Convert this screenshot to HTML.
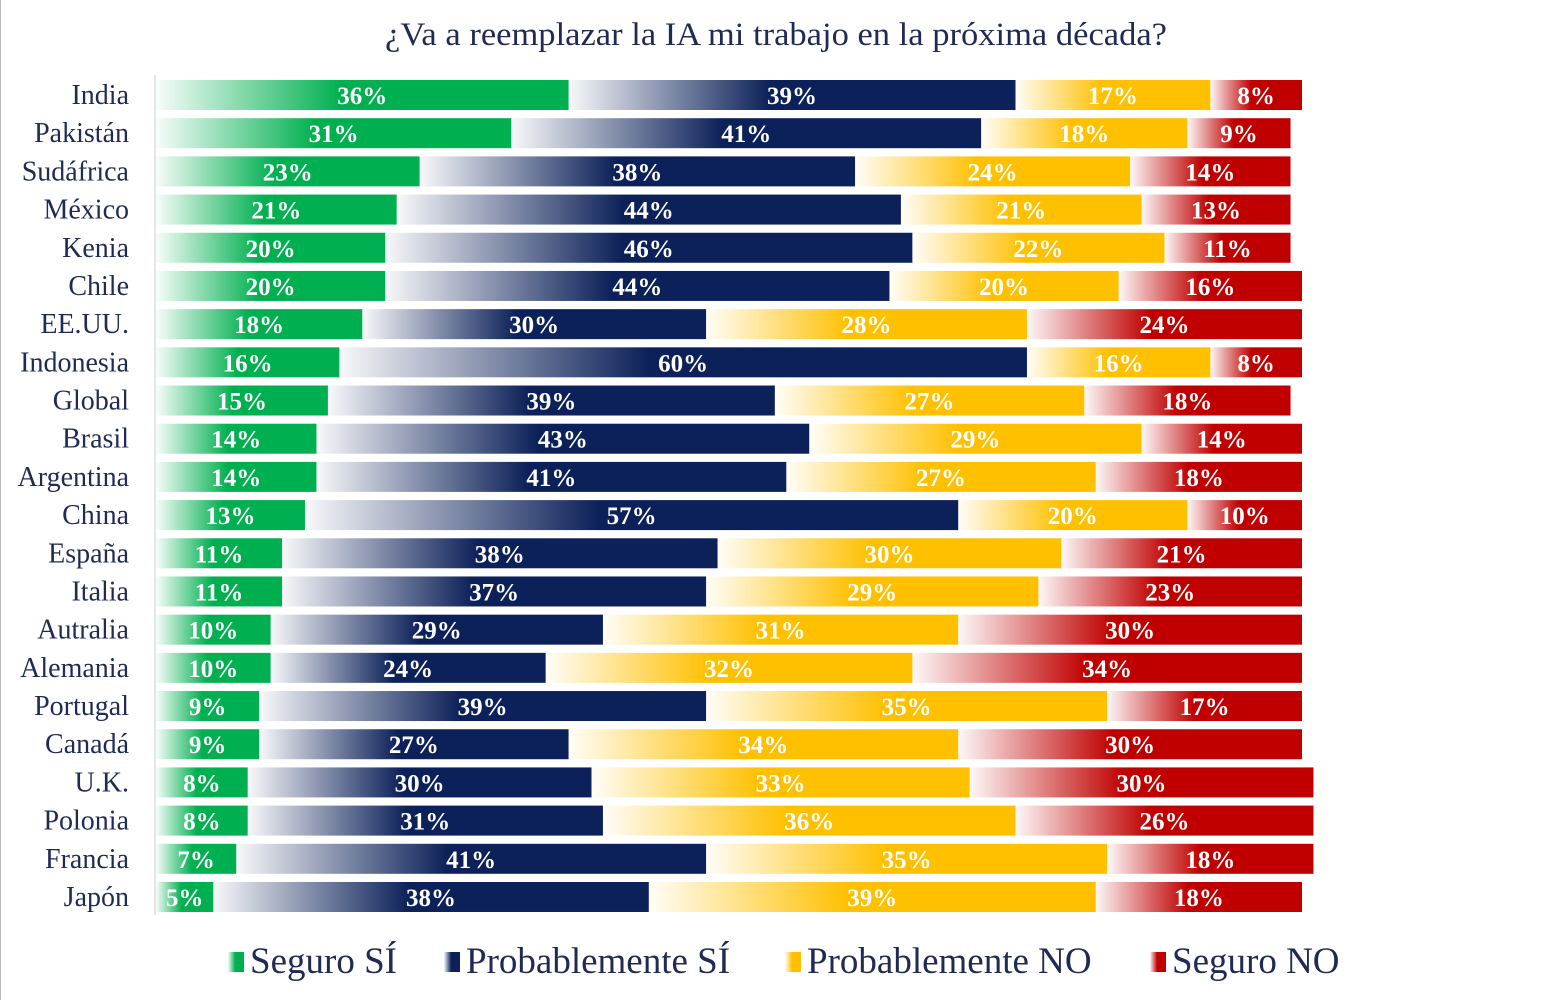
<!DOCTYPE html>
<html><head><meta charset="utf-8"><style>
body{margin:0;background:#fff;}
svg{display:block;font-family:"Liberation Serif",serif;}
</style></head><body>
<svg id="chart" width="1554" height="1000" viewBox="0 0 1554 1000">
<defs>
<linearGradient id="g0" x1="0" x2="1"><stop offset="0" stop-color="#00b050" stop-opacity="0.03"/><stop offset="0.45" stop-color="#00b050"/></linearGradient>
<linearGradient id="g1" x1="0" x2="1"><stop offset="0" stop-color="#0c2159" stop-opacity="0.03"/><stop offset="0.45" stop-color="#0c2159"/></linearGradient>
<linearGradient id="g2" x1="0" x2="1"><stop offset="0" stop-color="#ffc000" stop-opacity="0.03"/><stop offset="0.45" stop-color="#ffc000"/></linearGradient>
<linearGradient id="g3" x1="0" x2="1"><stop offset="0" stop-color="#c00000" stop-opacity="0.03"/><stop offset="0.45" stop-color="#c00000"/></linearGradient>
</defs>
<line x1="0.5" y1="0" x2="0.5" y2="1000" stroke="#bbb"/>
<text x="776" y="45" text-anchor="middle" font-size="33" textLength="782" lengthAdjust="spacingAndGlyphs" fill="#1f2a55">¿Va a reemplazar la IA mi trabajo en la próxima década?</text>
<line x1="155" y1="75" x2="155" y2="915" stroke="#ccc"/>
<g id="bars"></g>
<g id="legend"></g>
</svg>
<script>
const countries=["India","Pakistán","Sudáfrica","México","Kenia","Chile","EE.UU.","Indonesia","Global","Brasil","Argentina","China","España","Italia","Autralia","Alemania","Portugal","Canadá","U.K.","Polonia","Francia","Japón"];
const seguroSi=[36,31,23,21,20,20,18,16,15,14,14,13,11,11,10,10,9,9,8,8,7,5];
const probSi=[39,41,38,44,46,44,30,60,39,43,41,57,38,37,29,24,39,27,30,31,41,38];
const probNo=[17,18,24,21,22,20,28,16,27,29,27,20,30,29,31,32,35,34,33,36,35,39];
const seguroNo=[8,9,14,13,11,16,24,8,18,14,18,10,21,23,30,34,17,30,30,26,18,18];
const seriesNames=["Seguro SÍ","Probablemente SÍ","Probablemente NO","Seguro NO"];
const series=[seguroSi,probSi,probNo,seguroNo];
const x0=156,pxPer=11.46,y0=95,step=38.19,bh=30;
const xs=v=>x0+v*pxPer;
const ys=i=>y0+i*step;
const NS="http://www.w3.org/2000/svg";
const bars=document.getElementById('bars');
countries.forEach((c,i)=>{
  const t=document.createElementNS(NS,'text');
  t.setAttribute('x',129);t.setAttribute('y',ys(i)+9);t.setAttribute('text-anchor','end');
  t.setAttribute('font-size','28');t.setAttribute('fill','#1f2a55');t.textContent=c;
  
  
  bars.appendChild(t);
  let cum=0;
  series.forEach((s,k)=>{
    const v=s[i];
    const r=document.createElementNS(NS,'rect');
    r.setAttribute('x',xs(cum));r.setAttribute('y',ys(i)-bh/2);
    r.setAttribute('width',v*pxPer);r.setAttribute('height',bh);
    r.setAttribute('fill','url(#g'+k+')');
    
    
    bars.appendChild(r);
    const l=document.createElementNS(NS,'text');
    l.setAttribute('x',xs(cum+v/2));l.setAttribute('y',ys(i)+9);
    l.setAttribute('text-anchor','middle');l.setAttribute('font-size','25');
    l.setAttribute('font-weight','bold');l.setAttribute('fill','#fff');
    l.textContent=v+'%';
    
    
    bars.appendChild(l);
    cum+=v;
  });
});
const legend=document.getElementById('legend');
const lx=[228,444,785,1150];
seriesNames.forEach((n,k)=>{
  const r=document.createElementNS(NS,'rect');
  r.setAttribute('x',lx[k]);r.setAttribute('y',952);r.setAttribute('width',16);r.setAttribute('height',20);
  r.setAttribute('fill','url(#g'+k+')');
  
  
  legend.appendChild(r);
  const t=document.createElementNS(NS,'text');
  t.setAttribute('x',lx[k]+22);t.setAttribute('y',973);t.setAttribute('font-size','37');
  t.setAttribute('fill','#1f2a55');t.textContent=n;
  
  
  legend.appendChild(t);
});
</script>
</body></html>
